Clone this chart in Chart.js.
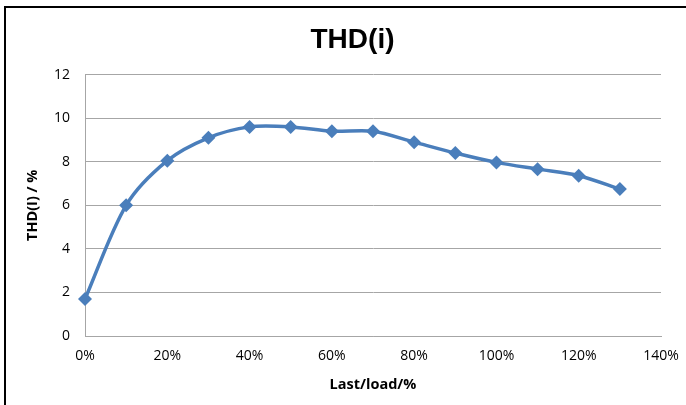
<!DOCTYPE html>
<html>
<head>
<meta charset="utf-8">
<title>THD(i)</title>
<script src="https://cdn.jsdelivr.net/npm/chart.js@4"></script>
<style>
    html, body { margin: 0; padding: 0; background: #fff; }
    #wrap { position: relative; width: 686px; height: 405px; }
    #frame {
        position: absolute; left: 4px; top: 6px; right: 0; bottom: 0;
        border-top: 2px solid #000; border-left: 2px solid #000;
        pointer-events: none;
    }
</style>
</head>
<body>
<div id="wrap">
    <canvas id="thdChart" width="686" height="405"></canvas>
    <div id="frame"></div>
</div>
<script>
    // Datos
    const loadPercent = [0, 10, 20, 30, 40, 50, 60, 70, 80, 90, 100, 110, 120, 130];
    const thdValues = [1.7, 6.0, 8.05, 9.1, 9.6, 9.6, 9.4, 9.4, 8.9, 8.4, 7.97, 7.66, 7.36, 6.75];
    const xTicks = [0, 20, 40, 60, 80, 100, 120, 140];
    const yTicks = [0, 2, 4, 6, 8, 10, 12];

    const blue = '#4a7ebb';
    const gridColor = '#a6a6a6';
    const tickFont = { family: '"Open Sans", sans-serif', size: 14 };
    const axisTitleFont = { family: '"Open Sans", sans-serif', size: 14.5, weight: 'bold' };

    const points = loadPercent.map((x, i) => ({ x: x, y: thdValues[i] }));

    const ctx = document.getElementById('thdChart');
    new Chart(ctx, {
        type: 'line',
        data: {
            datasets: [{
                label: 'THD(i)',
                data: points,
                borderColor: blue,
                backgroundColor: blue,
                borderWidth: 3.5,
                tension: 0.3,
                pointStyle: 'rectRot',
                pointRadius: 7,
                pointBorderWidth: 0,
                fill: false,
                clip: false
            }]
        },
        options: {
            responsive: false,
            animation: false,
            // padding izquierdo para centrar el titulo como en Excel
            layout: { padding: { left: 44, right: 25, top: 0, bottom: 0 } },
            plugins: {
                legend: { display: false },
                tooltip: { enabled: false },
                title: {
                    display: true,
                    text: 'THD(i)',
                    color: '#000',
                    font: { family: '"Liberation Sans Narrow", "Liberation Sans", sans-serif', size: 28, weight: 'bold', lineHeight: 1.2 },
                    padding: { top: 23, bottom: 18 }
                }
            },
            scales: {
                x: {
                    type: 'linear',
                    min: 0,
                    max: 140,
                    afterBuildTicks: (axis) => { axis.ticks = xTicks.map(v => ({ value: v })); },
                    afterFit: (axis) => {
                        axis.height = 69;
                        axis.paddingLeft = 0;
                        axis.paddingRight = 0;
                    },
                    grid: { display: false, drawTicks: false },
                    border: { display: true, color: gridColor, width: 1 },
                    ticks: {
                        padding: 12,
                        color: '#000',
                        font: tickFont,
                        maxRotation: 0,
                        callback: (v) => v + '%'
                    },
                    title: {
                        display: true,
                        text: 'Last/load/%',
                        color: '#000',
                        font: axisTitleFont,
                        padding: { top: 0, bottom: 11 }
                    }
                },
                y: {
                    min: 0,
                    max: 12,
                    afterBuildTicks: (axis) => { axis.ticks = yTicks.map(v => ({ value: v })); },
                    afterFit: (axis) => { axis.width = 41; },
                    grid: { color: gridColor, lineWidth: 1, drawTicks: false },
                    border: { display: true, color: gridColor, width: 1 },
                    ticks: {
                        padding: 15,
                        color: '#000',
                        font: tickFont
                    },
                    title: {
                        display: true,
                        text: 'THD(I) / %',
                        color: '#000',
                        font: axisTitleFont,
                        padding: { top: -20, bottom: 0 }
                    }
                }
            }
        }
    });
</script>
</body>
</html>
